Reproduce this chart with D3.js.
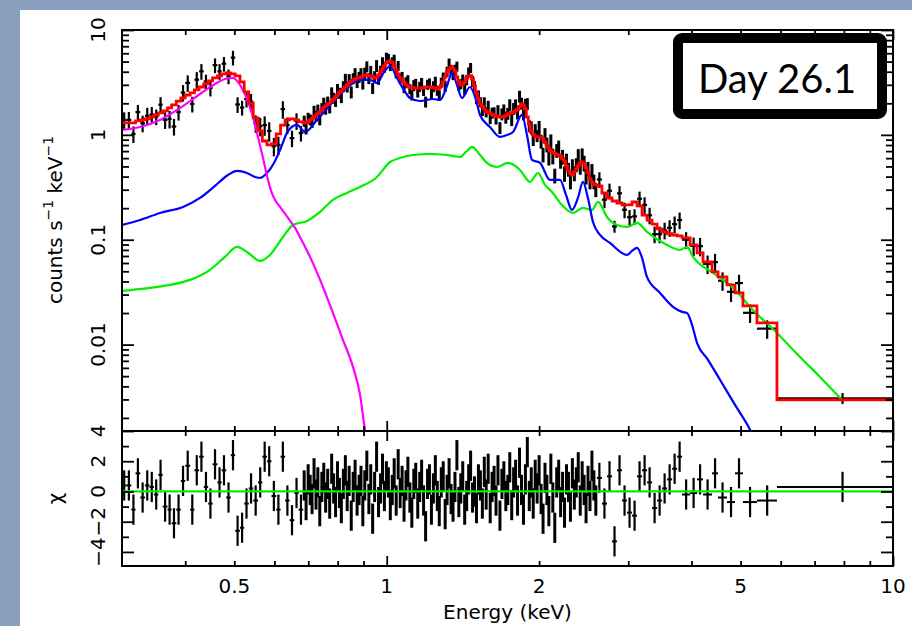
<!DOCTYPE html>
<html>
<head>
<meta charset="utf-8">
<script src="https://cdn.jsdelivr.net/npm/d3@7"></script>
<style>
  html, body { margin: 0; padding: 0; background: #8a9fbe; }
  #chart { display: block; }
</style>
</head>
<body>
<svg id="chart" width="912" height="626"></svg>
<script>
// spectrum bins, edges in keV
const binEdges = [
  0.300, 0.306, 0.313, 0.319, 0.326, 0.333, 0.340, 0.347, 0.354, 0.361, 0.369, 0.376, 0.384, 0.392, 0.400,
  0.409, 0.417, 0.426, 0.435, 0.444, 0.453, 0.463, 0.472, 0.482, 0.492, 0.502, 0.513, 0.523, 0.534, 0.545,
  0.557, 0.568, 0.580, 0.592, 0.605, 0.617, 0.630, 0.643, 0.657, 0.670, 0.684,
  0.690, 0.696, 0.703, 0.709, 0.715, 0.722, 0.728, 0.734, 0.741, 0.748,
  0.754, 0.761, 0.768, 0.775, 0.782, 0.789, 0.796, 0.803, 0.810, 0.817,
  0.825, 0.832, 0.839, 0.847, 0.855, 0.862, 0.870, 0.878, 0.886, 0.893,
  0.901, 0.909, 0.918, 0.926, 0.934, 0.942, 0.951, 0.959, 0.968, 0.977,
  0.985, 0.994, 1.003, 1.012, 1.021, 1.030, 1.039, 1.049, 1.058, 1.068,
  1.077, 1.087, 1.096, 1.106, 1.116, 1.126, 1.136, 1.146, 1.157, 1.167,
  1.177, 1.188, 1.199, 1.209, 1.220, 1.231, 1.242, 1.253, 1.264, 1.276,
  1.287, 1.299, 1.310, 1.322, 1.334, 1.346, 1.358, 1.370, 1.382, 1.394,
  1.407, 1.419, 1.432, 1.445, 1.458, 1.471, 1.484, 1.497, 1.511, 1.524,
  1.538, 1.552, 1.565, 1.579, 1.594, 1.608, 1.622, 1.637, 1.651, 1.666,
  1.681, 1.696, 1.711, 1.727, 1.742, 1.758, 1.773, 1.789, 1.805, 1.821,
  1.838, 1.854, 1.871, 1.887, 1.904, 1.921, 1.938, 1.956, 1.973, 1.991,
  2.009, 2.027, 2.045, 2.063, 2.081, 2.100, 2.119, 2.138, 2.157, 2.176,
  2.196, 2.215, 2.235, 2.255, 2.275, 2.296, 2.316, 2.337, 2.358, 2.379,
  2.400, 2.422, 2.443, 2.465, 2.487, 2.509, 2.532, 2.554, 2.577, 2.600,
  2.661, 2.723, 2.786, 2.850, 2.916, 2.983, 3.052, 3.122, 3.194, 3.268,
  3.343, 3.420, 3.499, 3.579, 3.662, 3.746, 3.832, 3.974, 4.102, 4.215,
  4.391, 4.512, 4.700, 4.874, 5.054, 5.386, 5.899, 10.0
];

// observed count rate per bin (counts s-1 keV-1)
const dataRate = [
  1.39, 1.39, 1.02, 1.65, 1.29, 1.52, 1.56, 1.49, 1.94, 1.39,
  1.42, 1.20, 1.65, 2.53, 3.13, 1.97, 3.36, 4.04, 3.23, 2.80,
  4.62, 4.04, 4.77, 3.62, 5.46, 1.95, 1.82, 2.20, 2.08, 1.29,
  1.21, 1.24, 1.09, 0.78, 0.80, 1.76, 1.24, 0.93, 1.36, 1.04,
  1.36, 1.16, 1.45, 1.40, 1.34, 1.69, 1.51, 1.72, 1.40, 1.79,
  2.02, 1.79, 2.07, 1.82, 2.51, 2.25, 2.10, 2.71, 2.51, 2.28,
  2.90, 3.38, 2.88, 3.39, 2.56, 3.46, 3.86, 3.21, 3.56, 3.86,
  3.07, 3.87, 4.48, 3.46, 4.02, 2.79, 3.61, 4.57, 3.41, 4.07,
  4.95, 4.39, 5.43, 5.34, 4.56, 4.95, 5.19, 3.88, 4.56, 3.45,
  3.59, 2.81, 3.16, 3.34, 2.74, 2.39, 2.97, 3.08, 2.55, 2.89,
  3.14, 2.64, 2.07, 3.02, 3.11, 2.48, 2.90, 3.23, 2.65, 2.40,
  3.16, 3.54, 2.92, 4.02, 4.81, 4.19, 3.78, 4.20, 4.50, 2.95,
  3.06, 3.39, 2.73, 3.34, 3.96, 4.37, 3.25, 2.93, 2.20, 2.39,
  2.06, 1.70, 2.04, 1.65, 1.90, 1.42, 1.62, 1.65, 1.41, 1.73,
  1.17, 1.58, 1.71, 1.47, 1.60, 1.93, 1.41, 1.78, 1.93, 1.61,
  2.33, 2.00, 1.60, 1.95, 1.98, 1.22, 1.18, 0.90, 1.12, 0.98,
  1.17, 0.87, 0.65, 0.99, 0.81, 0.60, 0.87, 0.63, 0.41, 0.71,
  0.76, 0.56, 0.62, 0.43, 0.57, 0.47, 0.36, 0.50, 0.43, 0.52,
  0.63, 0.49, 0.64, 0.54, 0.40, 0.48, 0.36, 0.45, 0.36, 0.30,
  0.376, 0.241, 0.293, 0.134, 0.277, 0.193, 0.164, 0.167, 0.246, 0.215,
  0.171, 0.113, 0.113, 0.123, 0.130, 0.141, 0.154, 0.100, 0.0874, 0.0868,
  0.0589, 0.0611, 0.0407, 0.0319, 0.0386, 0.0201, 0.0142, 0.00308
];

// fractional 1-sigma error of each rate
const fracErr = [
  0.18, 0.19, 0.18, 0.17, 0.18, 0.19, 0.18, 0.17, 0.18, 0.18,
  0.19, 0.18, 0.17, 0.18, 0.18, 0.17, 0.18, 0.17, 0.16, 0.17,
  0.16, 0.17, 0.16, 0.16, 0.16, 0.17, 0.16, 0.17, 0.18, 0.19,
  0.20, 0.21, 0.21, 0.20, 0.20, 0.19, 0.18, 0.18, 0.18, 0.17,
  0.12, 0.13, 0.12, 0.12, 0.13, 0.12, 0.12, 0.13, 0.12, 0.12,
  0.12, 0.13, 0.12, 0.12, 0.13, 0.12, 0.12, 0.13, 0.12, 0.12,
  0.12, 0.13, 0.12, 0.12, 0.13, 0.12, 0.12, 0.13, 0.12, 0.12,
  0.12, 0.13, 0.12, 0.12, 0.13, 0.12, 0.12, 0.13, 0.12, 0.12,
  0.11, 0.11, 0.12, 0.11, 0.11, 0.11, 0.12, 0.11, 0.11, 0.11,
  0.11, 0.11, 0.12, 0.11, 0.11, 0.11, 0.12, 0.11, 0.11, 0.11,
  0.11, 0.11, 0.12, 0.11, 0.11, 0.11, 0.12, 0.11, 0.11, 0.11,
  0.11, 0.11, 0.12, 0.11, 0.11, 0.11, 0.12, 0.11, 0.11, 0.11,
  0.11, 0.11, 0.12, 0.11, 0.11, 0.11, 0.12, 0.11, 0.11, 0.11,
  0.11, 0.11, 0.12, 0.11, 0.11, 0.11, 0.12, 0.11, 0.11, 0.11,
  0.13, 0.13, 0.14, 0.13, 0.13, 0.13, 0.14, 0.13, 0.13, 0.13,
  0.13, 0.13, 0.14, 0.13, 0.13, 0.13, 0.14, 0.13, 0.13, 0.13,
  0.16, 0.15, 0.16, 0.17, 0.16, 0.15, 0.16, 0.17, 0.16, 0.15,
  0.16, 0.15, 0.16, 0.17, 0.16, 0.15, 0.16, 0.17, 0.16, 0.15,
  0.16, 0.15, 0.16, 0.17, 0.16, 0.15, 0.16, 0.17, 0.16, 0.15,
  0.17, 0.17, 0.17, 0.13, 0.17, 0.17, 0.17, 0.17, 0.17, 0.18,
  0.18, 0.18, 0.18, 0.18, 0.18, 0.18, 0.18, 0.18, 0.20, 0.20,
  0.20, 0.20, 0.20, 0.20, 0.20, 0.20, 0.20, 0.12
];

// total folded model per bin (red histogram)
const modelRate = [
  1.30, 1.30, 1.30, 1.36, 1.39, 1.42, 1.48, 1.55, 1.62, 1.69,
  1.81, 1.93, 2.10, 2.25, 2.40, 2.51, 2.68, 2.86, 3.06, 3.27,
  3.49, 3.65, 3.81, 3.90, 3.81, 3.65, 3.20, 2.57, 2.01, 1.45,
  1.09, 0.874, 0.801, 0.82, 1.02, 1.24, 1.39, 1.42, 1.39, 1.33,
  1.298, 1.31, 1.327, 1.386, 1.43, 1.481, 1.547, 1.60, 1.653, 1.727,
  1.825, 1.886, 1.95, 2.014, 2.104, 2.199, 2.297, 2.400, 2.536, 2.621,
  2.738, 2.861, 2.990, 3.124, 3.23, 3.337, 3.411, 3.486, 3.52, 3.564,
  3.643, 3.68, 3.724, 3.68, 3.643, 3.564, 3.486, 3.52, 3.724, 3.977,
  4.248, 4.537, 4.846, 5.01, 5.064, 4.90, 4.537, 4.156, 3.806, 3.486,
  3.337, 3.16, 3.02, 2.925, 2.861, 2.83, 2.799, 2.799, 2.799, 2.799,
  2.799, 2.83, 2.861, 2.861, 2.861, 2.861, 2.83, 2.799, 2.738, 2.799,
  2.96, 3.193, 3.564, 3.977, 4.248, 4.439, 4.30, 4.066, 3.564, 3.193,
  2.990, 3.056, 3.193, 3.45, 3.643, 3.68, 3.411, 2.925, 2.508, 2.199,
  1.970, 1.865, 1.765, 1.689, 1.635, 1.617, 1.565, 1.53, 1.514, 1.497,
  1.481, 1.481, 1.497, 1.53, 1.582, 1.60, 1.617, 1.653, 1.689, 1.746,
  1.865, 1.970, 1.927, 1.765, 1.481, 1.270, 1.089, 1.008, 0.976, 0.955,
  0.955, 0.945, 0.914, 0.855, 0.801, 0.741, 0.702, 0.672, 0.665, 0.650,
  0.643, 0.629, 0.595, 0.563, 0.505, 0.453, 0.424, 0.415, 0.443, 0.473,
  0.505, 0.539, 0.551, 0.533, 0.483, 0.433, 0.380, 0.352, 0.340, 0.333,
  0.326, 0.279, 0.250, 0.234, 0.224, 0.215, 0.215, 0.229, 0.210, 0.172,
  0.154, 0.141, 0.127, 0.119, 0.114, 0.111, 0.109, 0.104, 0.0892, 0.0748,
  0.0614, 0.0493, 0.0442, 0.0371, 0.0311, 0.0234, 0.0161, 0.00297
];

// residuals (data - model) / error
const chiValues = [
  0.4, 0.4, -1.2, 1.2, -0.4, 0.4, 0.3, -0.2, 1.1, -1.0,
  -1.2, -2.1, -1.2, 0.7, 1.7, -1.2, 1.4, 2.3, 0.3, -0.8,
  1.8, 0.6, 1.4, -0.4, 2.4, -2.6, -2.4, -0.8, 0.2, -0.6,
  0.6, 2.3, 2.0, -0.3, -1.2, 2.3, -0.6, -1.9, -0.1, -1.2,
  0.4, -0.9, 0.8, 0.1, -0.5, 1.2, -0.2, 0.6, -1.3, 0.3, 0.9, -0.4, 0.5, -0.8, 1.5,
  0.2, -0.7, 1.0, -0.1, -1.1, 0.5, 1.4, -0.3, 0.7, -1.6, 0.3, 1.1, -0.6, 0.1, 0.7,
  -1.3, 0.4, 1.7, -0.5, 0.8, -1.8, 0.3, 2.3, -0.7, 0.2, 1.5, -0.3, 1.0, 0.6, -0.9,
  0.1, 1.2, -0.6, 1.8, -0.1, 0.7, -1.0, 0.4, 1.3, -0.4, -1.4, 0.5, 0.9, -0.8, 0.3,
  1.1, -0.6, -2.3, 0.5, 0.8, -1.2, 0.2, 1.4, -0.3, -1.3, 0.6, 1.0, -1.5, 0.1, 1.2,
  -0.5, -1.0, 0.3, 2.4, -0.7, 0.2, 1.0, -1.2, -0.3, 0.8, 1.7, -0.4, 0.0, -1.1, 0.8,
  0.4, -0.8, 1.3, -0.2, 1.5, -1.1, 0.3, 0.7, -0.6, 1.4, -1.6, 0.5, 1.0, -0.3, 0.1,
  1.6, -0.9, 0.6, 1.1, -0.6, 1.9, 0.1, -1.2, 0.8, 2.6, -0.3, 0.6, -0.8, 1.1, 0.2,
  1.4, -0.5, -1.8, 0.9, 0.1, -1.3, 1.5, -0.4, -2.4, 0.6, 1.1, -0.7, 0.3, -1.4, 0.8,
  0.3, -1.0, 1.2, -0.2, 0.6, 1.6, -0.6, 1.0, 0.1, -1.1, 0.7, -0.3, 1.7, 0.4, -0.6,
  0.9, -0.8, 1.0, -3.3, 1.4, -0.6, -1.4, -1.6, 1.0, 1.4,
  0.6, -1.1, -0.6, 0.2, 0.8, 1.5, 2.3, -0.2, -0.1, 0.8,
  -0.2, 1.2, -0.4, -0.7, 1.2, -0.7, -0.6, 0.3
];

// model components [keV, counts s-1 keV-1]
const magentaCurve = [
  [0.300, 1.114], [0.3256, 1.189], [0.3566, 1.387], [0.3906, 1.805], [0.4278, 2.454],
  [0.4579, 3.06], [0.4793, 3.41], [0.4970, 3.49], [0.5132, 2.99], [0.5297, 2.199],
  [0.5443, 1.481], [0.5568, 0.955], [0.5697, 0.602], [0.5828, 0.3715], [0.5961, 0.2615],
  [0.6156, 0.2055], [0.6383, 0.1613], [0.6590, 0.1296], [0.6834, 0.0932], [0.7055, 0.0686],
  [0.7385, 0.0414], [0.7830, 0.02005], [0.8195, 0.0111], [0.8577, 0.00613], [0.8858, 0.00332],
  [0.9060, 0.00154], [0.915, 0.0012]
];

const blueCurve = [
  [0.300, 0.1384], [0.3256, 0.1544], [0.3566, 0.180], [0.3959, 0.2055], [0.4278, 0.2503],
  [0.4579, 0.3258], [0.4859, 0.4147], [0.5061, 0.453], [0.5297, 0.4333], [0.5494, 0.3969],
  [0.5621, 0.3882], [0.5801, 0.4333], [0.5989, 0.5397], [0.6156, 0.718], [0.6383, 1.089],
  [0.6650, 1.243], [0.6896, 1.066], [0.7284, 1.387], [0.7830, 2.058], [0.8346, 2.801],
  [0.8858, 3.338], [0.9266, 3.338], [0.9568, 3.125], [0.9877, 3.978], [1.0149, 4.537],
  [1.0478, 3.487], [1.0816, 2.679], [1.1115, 2.247], [1.1634, 2.104], [1.2342, 2.199],
  [1.2742, 2.151], [1.3152, 2.926], [1.3456, 3.893], [1.3766, 2.990], [1.4082, 2.247],
  [1.4604, 2.862], [1.5010, 2.151], [1.5284, 1.548], [1.5993, 1.189], [1.674, 0.955],
  [1.7281, 0.998], [1.7761, 1.066], [1.850, 1.548], [1.8923, 0.998], [1.9359, 0.578],
  [2.008, 0.540], [2.101, 0.3715], [2.199, 0.3715], [2.260, 0.2673], [2.322, 0.1923],
  [2.386, 0.2503], [2.441, 0.3556], [2.497, 0.2503], [2.555, 0.1477], [2.638, 0.1111],
  [2.760, 0.0932], [2.983, 0.0716], [3.051, 0.0782], [3.122, 0.0835], [3.194, 0.0671],
  [3.266, 0.0442], [3.466, 0.0311], [3.677, 0.0229], [3.831, 0.0205], [3.919, 0.0200],
  [4.009, 0.0154], [4.101, 0.01038], [4.311, 0.00716], [4.553, 0.00462], [4.875, 0.00266],
  [5.218, 0.00155], [5.339, 0.00123]
];

const greenCurve = [
  [0.300, 0.0325], [0.3406, 0.0347], [0.3731, 0.0371], [0.4088, 0.0414], [0.4476, 0.0516],
  [0.4793, 0.0686], [0.5061, 0.0854], [0.5297, 0.0765], [0.5621, 0.0628], [0.5880, 0.0716],
  [0.6240, 0.1063], [0.6529, 0.1384], [0.6960, 0.1510], [0.7385, 0.1841], [0.7830, 0.2405],
  [0.8346, 0.2794], [0.8858, 0.3187], [0.9568, 0.3969], [1.0149, 0.551], [1.0622, 0.602],
  [1.1270, 0.643], [1.2173, 0.657], [1.3152, 0.643], [1.3955, 0.615], [1.4339, 0.687],
  [1.4737, 0.767], [1.5284, 0.643], [1.5776, 0.540], [1.6511, 0.494], [1.7360, 0.540],
  [1.8334, 0.463], [1.9181, 0.3556], [1.9899, 0.433], [2.0540, 0.333], [2.1206, 0.2855],
  [2.2189, 0.2147], [2.3335, 0.1800], [2.441, 0.2009], [2.543, 0.1923], [2.614, 0.2293],
  [2.723, 0.1649], [2.850, 0.1384], [2.983, 0.1324], [3.122, 0.1445], [3.266, 0.1187],
  [3.578, 0.0892], [3.796, 0.0799], [3.919, 0.0854], [4.027, 0.0686], [4.410, 0.0483],
  [4.830, 0.0347], [5.289, 0.0214], [5.899, 0.0129], [6.551, 0.00763], [7.174, 0.00492],
  [7.930, 0.00297]
];

// axis ticks and labels
const xLabels = [0.5, 1, 2, 5, 10];
const xMajor = [1, 10];
const xMinor = [0.4, 0.5, 0.6, 0.7, 0.8, 0.9, 2, 3, 4, 5, 6, 7, 8, 9];
const yLabels = [0.01, 0.1, 1, 10];
const chiLabels = [-4, -2, 0, 2, 4];
const chiMinor = [-3, -1, 1, 3];

const svg = d3.select("#chart");
const font = "'DejaVu Sans', sans-serif";

// white slide area
svg.append("rect").attr("x", 20).attr("y", 10).attr("width", 892).attr("height", 616).attr("fill", "#fff");

const pLeft = 122, pRight = 893, pTop = 30, pMid = 431, pBottom = 566;

const x = d3.scaleLog().domain([0.3, 10]).range([pLeft, pRight]);
const y = d3.scaleLog().domain([0.0015, 10]).range([pMid, pTop]);
const yChi = d3.scaleLinear().domain([-4.93, 4]).range([pBottom, pMid]);

var bins = dataRate.map(function(r, i) {
    return {
        lo: binEdges[i], hi: binEdges[i + 1], e: (binEdges[i] + binEdges[i + 1]) / 2,
        rate: r, err: r * fracErr[i], model: modelRate[i], chi: chiValues[i]
    };
});

// narrow bins overlap into a solid band, so give them a heavier pen
function barWidth(d) {
    return (x(d.hi) - x(d.lo)) < 2.5 ? 3 : 2.2;
}

const defs = svg.append("defs");
defs.append("clipPath").attr("id", "clipTop").append("rect")
    .attr("x", pLeft).attr("y", pTop).attr("width", pRight - pLeft).attr("height", pMid - pTop);
defs.append("clipPath").attr("id", "clipBot").append("rect")
    .attr("x", pLeft).attr("y", pMid).attr("width", pRight - pLeft).attr("height", pBottom - pMid);

// data crosses, upper panel
const gData = svg.append("g").attr("clip-path", "url(#clipTop)").attr("stroke", "#000");
gData.selectAll(".xerr").data(bins).enter().append("line")
    .attr("stroke-width", 2.2)
    .attr("x1", d => x(d.lo)).attr("x2", d => x(d.hi))
    .attr("y1", d => y(d.rate)).attr("y2", d => y(d.rate));
gData.selectAll(".yerr").data(bins).enter().append("line")
    .attr("stroke-width", barWidth)
    .attr("x1", d => x(d.e)).attr("x2", d => x(d.e))
    .attr("y1", d => y(d.rate - d.err)).attr("y2", d => y(d.rate + d.err));

// model components
const smooth = d3.line().x(d => x(d[0])).y(d => y(d[1])).curve(d3.curveMonotoneX);
const gModel = svg.append("g").attr("clip-path", "url(#clipTop)").attr("fill", "none");
gModel.append("path").attr("d", smooth(greenCurve)).attr("stroke", "#00f000").attr("stroke-width", 2.2);
gModel.append("path").attr("d", smooth(blueCurve)).attr("stroke", "#0000ff").attr("stroke-width", 2.2);
gModel.append("path").attr("d", smooth(magentaCurve)).attr("stroke", "#ff00ff").attr("stroke-width", 2.2);

// total model as histogram
var steps = bins.map(d => [d.lo, d.model]);
steps.push([bins[bins.length - 1].hi, bins[bins.length - 1].model]);
const stepLine = d3.line().x(d => x(d[0])).y(d => y(d[1])).curve(d3.curveStepAfter);
gModel.append("path").attr("d", stepLine(steps)).attr("stroke", "#ff0000").attr("stroke-width", 2.8);

// residual panel
const gChi = svg.append("g").attr("clip-path", "url(#clipBot)").attr("stroke", "#000");
gChi.selectAll(".xerr").data(bins).enter().append("line")
    .attr("stroke-width", 2)
    .attr("x1", d => x(d.lo)).attr("x2", d => x(d.hi))
    .attr("y1", d => yChi(d.chi)).attr("y2", d => yChi(d.chi));
gChi.selectAll(".yerr").data(bins).enter().append("line")
    .attr("stroke-width", barWidth)
    .attr("x1", d => x(d.e)).attr("x2", d => x(d.e))
    .attr("y1", d => yChi(d.chi - 1)).attr("y2", d => yChi(d.chi + 1));
svg.append("line").attr("x1", pLeft).attr("x2", pRight)
    .attr("y1", yChi(0)).attr("y2", yChi(0))
    .attr("stroke", "#00f000").attr("stroke-width", 2.2);

// ticks on all four sides, pointing inwards
function ticks(axisFn, scale, values, size, tx, ty) {
    svg.append("g").attr("transform", "translate(" + tx + "," + ty + ")")
        .call(axisFn(scale).tickValues(values).tickSize(-size).tickFormat(""))
        .call(g => g.select(".domain").remove())
        .call(g => g.selectAll("line").attr("stroke", "#000").attr("stroke-width", 1.8));
}

var yMinor = [];
[0.001, 0.01, 0.1, 1].forEach(function(dec) {
    for (let k = 2; k <= 9; k++) {
        if (dec * k >= 0.0015) yMinor.push(dec * k);
    }
});

// upper panel
ticks(d3.axisTop, x, xMinor, 5, 0, pTop);
ticks(d3.axisTop, x, xMajor, 10, 0, pTop);
ticks(d3.axisBottom, x, xMinor, 5, 0, pMid);
ticks(d3.axisBottom, x, xMajor, 10, 0, pMid);
ticks(d3.axisLeft, y, yMinor, 7, pLeft, 0);
ticks(d3.axisLeft, y, yLabels, 12, pLeft, 0);
ticks(d3.axisRight, y, yMinor, 7, pRight, 0);
ticks(d3.axisRight, y, yLabels, 12, pRight, 0);

// lower panel
ticks(d3.axisTop, x, xMinor, 5, 0, pMid);
ticks(d3.axisTop, x, xMajor, 10, 0, pMid);
ticks(d3.axisBottom, x, xMinor, 5, 0, pBottom);
ticks(d3.axisBottom, x, xMajor, 10, 0, pBottom);
ticks(d3.axisLeft, yChi, chiMinor, 7, pLeft, 0);
ticks(d3.axisLeft, yChi, chiLabels, 12, pLeft, 0);
ticks(d3.axisRight, yChi, chiMinor, 7, pRight, 0);
ticks(d3.axisRight, yChi, chiLabels, 12, pRight, 0);

// frames
svg.append("rect").attr("x", pLeft).attr("y", pTop).attr("width", pRight - pLeft).attr("height", pMid - pTop)
    .attr("fill", "none").attr("stroke", "#000").attr("stroke-width", 2);
svg.append("rect").attr("x", pLeft).attr("y", pMid).attr("width", pRight - pLeft).attr("height", pBottom - pMid)
    .attr("fill", "none").attr("stroke", "#000").attr("stroke-width", 2);

// tick labels
svg.selectAll(".xlab").data(xLabels).enter().append("text")
    .attr("x", d => x(d)).attr("y", 593)
    .attr("text-anchor", "middle").attr("font-family", font).attr("font-size", 20)
    .text(d => String(d));

svg.selectAll(".ylab").data(yLabels).enter().append("text")
    .attr("transform", d => "translate(105," + y(d) + ") rotate(-90)")
    .attr("text-anchor", "middle").attr("font-family", font).attr("font-size", 20)
    .text(d => String(d));

svg.selectAll(".chilab").data(chiLabels).enter().append("text")
    .attr("transform", d => "translate(105," + yChi(d) + ") rotate(-90)")
    .attr("text-anchor", "middle").attr("font-family", font).attr("font-size", 20)
    .text(d => d < 0 ? "\u2212" + Math.abs(d) : String(d));

// axis titles
svg.append("text").attr("x", (pLeft + pRight) / 2).attr("y", 619)
    .attr("text-anchor", "middle").attr("font-family", font).attr("font-size", 20)
    .text("Energy (keV)");

const yTitle = svg.append("text")
    .attr("transform", "translate(62,220) rotate(-90)")
    .attr("text-anchor", "middle").attr("font-family", font).attr("font-size", 20);
yTitle.append("tspan").text("counts s");
yTitle.append("tspan").attr("font-size", 14).attr("dy", -9).text("\u22121");
yTitle.append("tspan").attr("dy", 9).text(" keV");
yTitle.append("tspan").attr("font-size", 14).attr("dy", -9).text("\u22121");

svg.append("text").attr("transform", "translate(62," + (pMid + pBottom) / 2 + ") rotate(-90)")
    .attr("text-anchor", "middle").attr("font-family", font).attr("font-size", 20)
    .text("\u03c7");

// day label
svg.append("rect").attr("x", 678).attr("y", 38).attr("width", 204).attr("height", 76).attr("rx", 4)
    .attr("fill", "#fff").attr("stroke", "#000").attr("stroke-width", 10);
svg.append("text").attr("x", 777).attr("y", 93)
    .attr("text-anchor", "middle").attr("font-family", "Lato, 'Open Sans', sans-serif").attr("font-size", 40)
    .text("Day 26.1");
</script>
</body>
</html>
